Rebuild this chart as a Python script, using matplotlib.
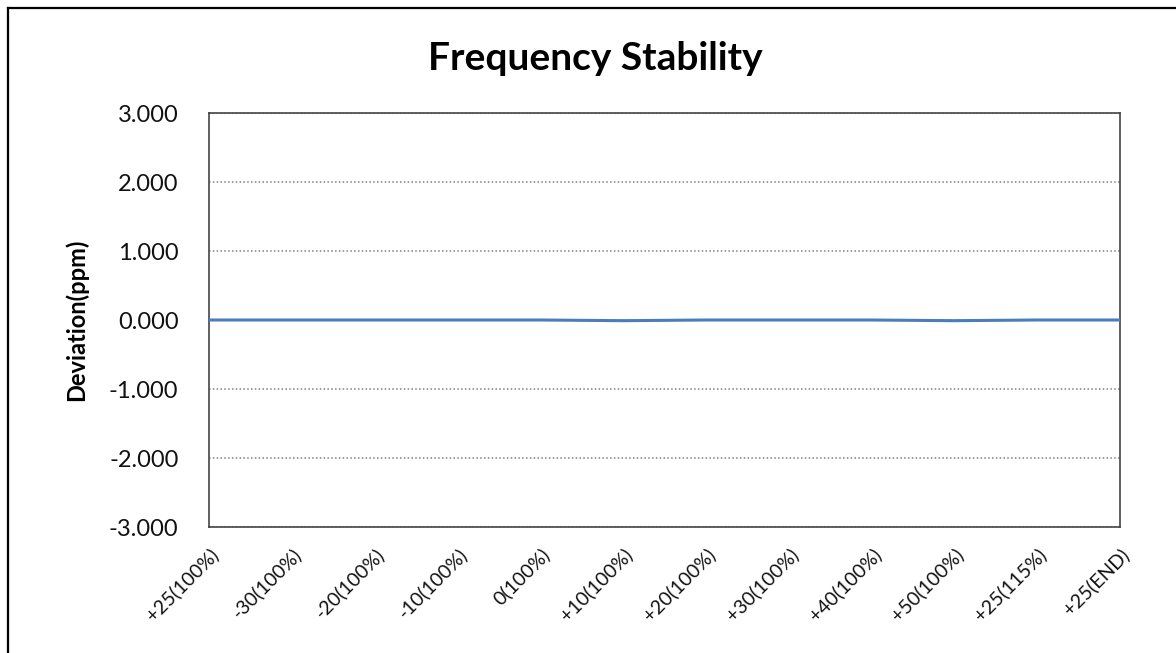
import matplotlib
matplotlib.use("Agg")
import matplotlib.pyplot as plt
from matplotlib.lines import Line2D

categories = ["+25(100%)", "-30(100%)", "-20(100%)", "-10(100%)", "0(100%)",
              "+10(100%)", "+20(100%)", "+30(100%)", "+40(100%)", "+50(100%)",
              "+25(115%)", "+25(END)"]
deviation = [0.000, 0.000, 0.000, 0.000, 0.000, -0.010, 0.000, 0.000, 0.000, -0.010, 0.000, 0.000]
yticks = [-3, -2, -1, 0, 1, 2, 3]
ytick_labels = ["-3.000", "-2.000", "-1.000", "0.000", "1.000", "2.000", "3.000"]

W, H = 1176, 653
fig = plt.figure(figsize=(W / 100, H / 100), dpi=100)
plt.rcParams['font.family'] = ['Lato', 'DejaVu Sans']

# outer chart border (left and top visible)
fig.add_artist(Line2D([8 / W, 8 / W], [0, 1 - 8 / H], transform=fig.transFigure, color="black", lw=1.6))
fig.add_artist(Line2D([8 / W, 1], [1 - 8 / H, 1 - 8 / H], transform=fig.transFigure, color="black", lw=1.6))

left, right, top, bottom = 209, 1120, 113, 527
ax = fig.add_axes([left / W, 1 - bottom / H, (right - left) / W, (bottom - top) / H])

x = list(range(len(categories)))
ax.plot(x, deviation, color="#4a7ebb", lw=2.2, solid_capstyle="butt", zorder=3)

ax.set_xlim(0, len(categories) - 1)
ax.set_ylim(-3, 3)
ax.set_yticks(yticks)
ax.set_yticklabels(ytick_labels, fontsize=17, color="#111111")
ax.set_xticks(x)
ax.set_xticklabels(categories, fontsize=14, rotation=45, ha="right", va="top",
                   rotation_mode="anchor", color="#111111")
ax.tick_params(axis="both", length=0)
ax.tick_params(axis="y", pad=22)
ax.tick_params(axis="x", pad=13)

for yv in yticks:
    ax.axhline(yv, color="#808080", lw=1.1, ls=(0, (1, 1.5)), zorder=1)

for s in ax.spines.values():
    s.set_color("#444444")
    s.set_linewidth(1.2)

ax.set_ylabel("Deviation(ppm)", fontsize=17, fontweight="bold")
ax.yaxis.set_label_coords(-0.133, 0.5)

fig.text(595 / W, 1 - 58 / H, "Frequency Stability", ha="center", va="center",
         fontsize=28, fontweight="bold")

fig.savefig("out.png", dpi=100)
